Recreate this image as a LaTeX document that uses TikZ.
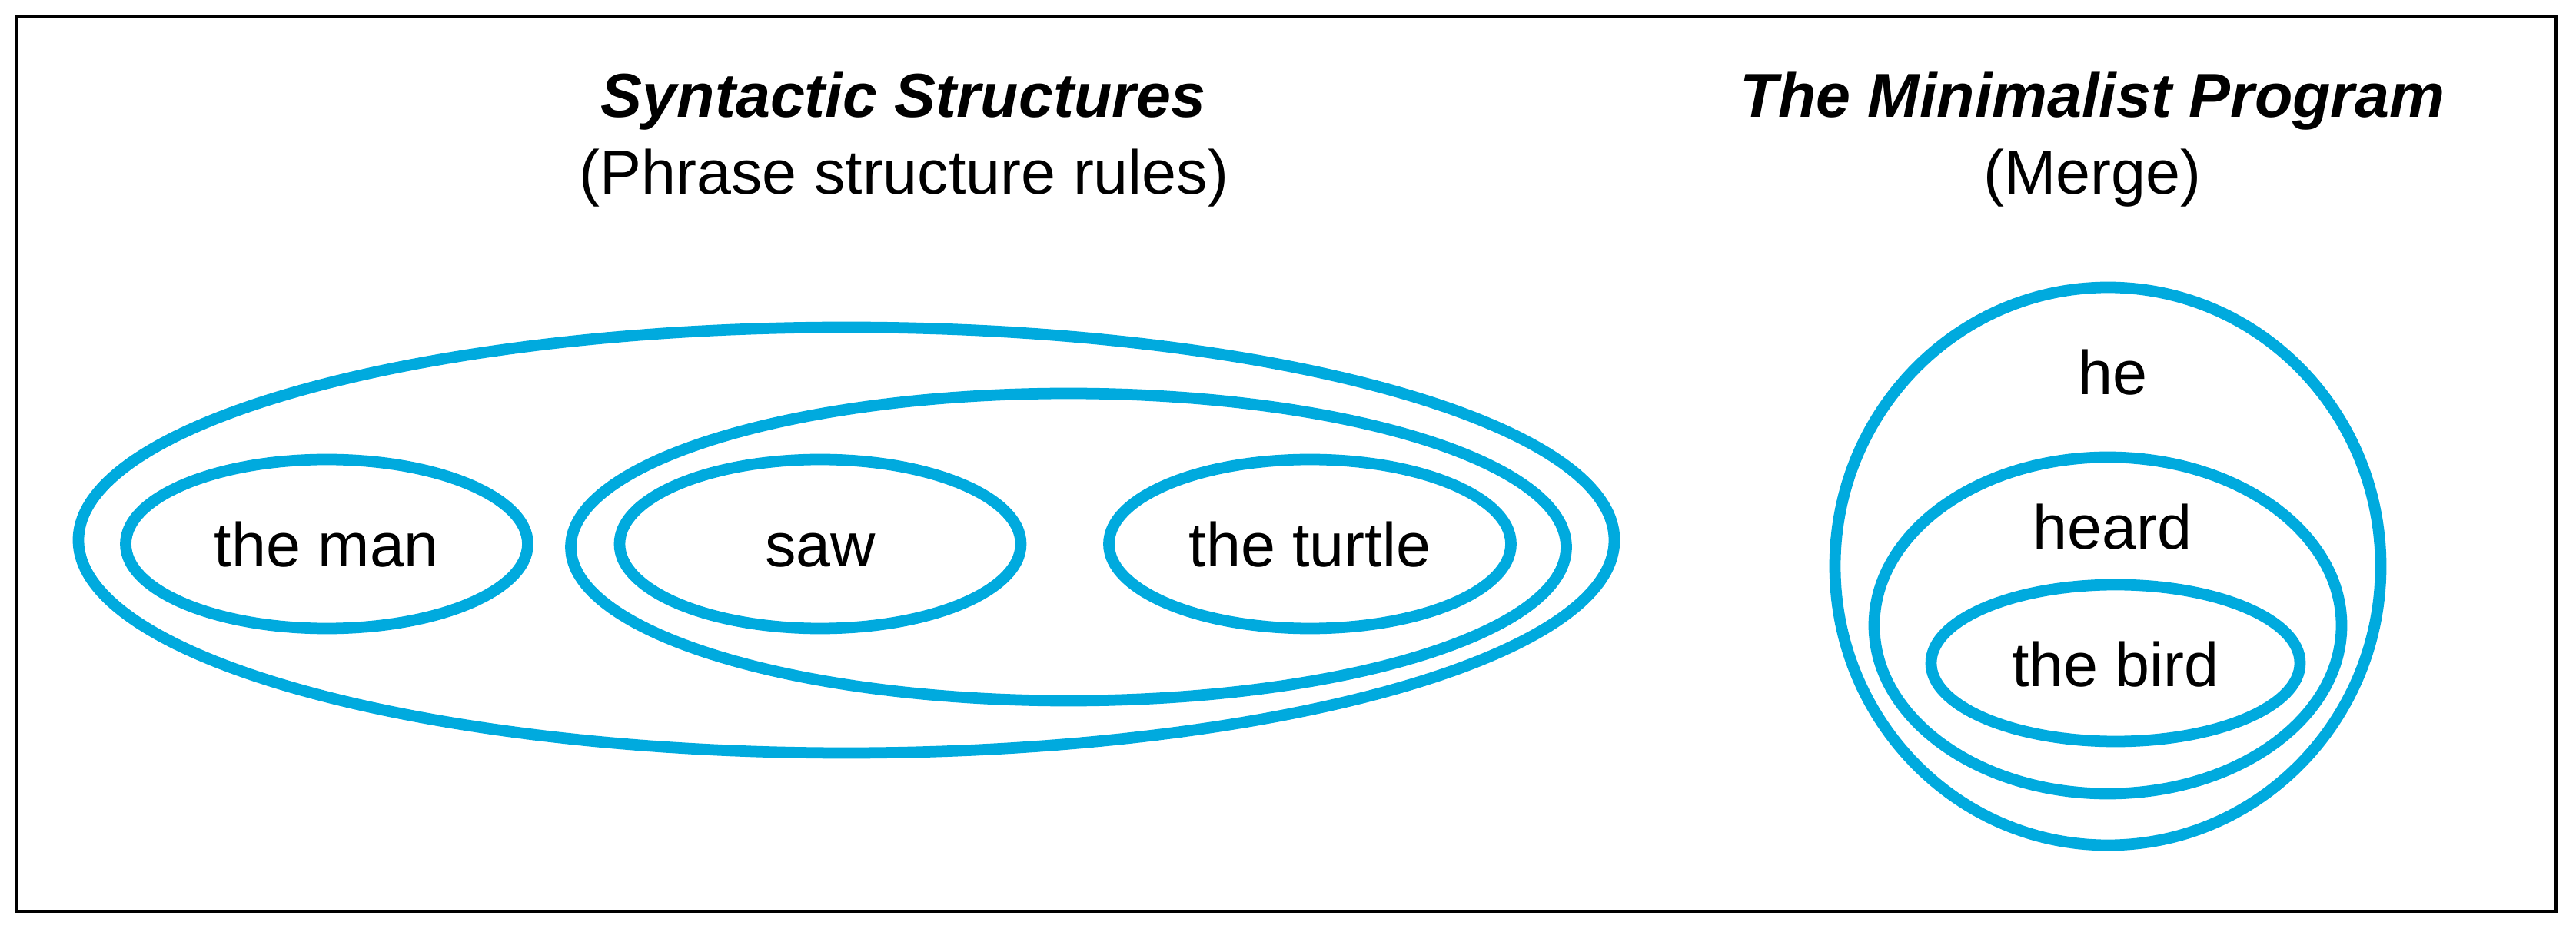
\documentclass[tikz,border=0pt]{standalone}
\usepackage{fontspec}
\setmainfont{Liberation Sans}
\usepackage{tikz}
\usetikzlibrary{shapes.geometric}
\definecolor{ringBlue}{HTML}{00AADE}

\tikzset{
  ring/.style={ellipse, draw=ringBlue, line width=4.2pt, inner sep=0pt,
    text height=0.6cm, text depth=0cm, font=\fontsize{23}{28}\selectfont},
  word/.style={anchor=base, font=\fontsize{23}{28}\selectfont},
  heading/.style={anchor=base, font=\fontsize{23}{28}\selectfont\bfseries\itshape},
}

\begin{document}
\begin{tikzpicture}

    \useasboundingbox (0,0) rectangle (33.51,12.12);
    \draw[line width=1.1pt] (0.21,0.26) rectangle (33.25,11.91);

    \node[heading] (ss) at (11.75,10.59) {Syntactic Structures};
    \node[word] (psr) at (11.76,9.59) {(Phrase structure rules)};
    \node[heading] (mp) at (27.22,10.59) {The Minimalist Program};
    \node[word] (mrg) at (27.22,9.59) {(Merge)};

    % phrase structure rules
    \node[ring, minimum width=19.98cm, minimum height=5.54cm] (sent) at (11.01,5.09) {};
    \node[ring, minimum width=12.95cm, minimum height=4.0cm] (vp) at (13.90,5.00) {};
    \node[ring, minimum width=5.23cm, minimum height=2.2cm] (man) at (4.25,5.04) {the man};
    \node[ring, minimum width=5.22cm, minimum height=2.2cm] (saw) at (10.67,5.04) {saw};
    \node[ring, minimum width=5.23cm, minimum height=2.2cm] (turtle) at (17.04,5.04) {the turtle};

    % merge
    \node[ring, minimum width=7.1cm, minimum height=7.26cm] (hebox) at (27.42,4.75) {};
    \node[ring, minimum width=6.08cm, minimum height=4.38cm] (heardbox) at (27.42,3.98) {};
    \node[ring, minimum width=4.8cm, minimum height=2.04cm] (bird) at (27.52,3.49) {the bird};
    \node[word] (he) at (27.48,6.98) {he};
    \node[word] (heard) at (27.48,4.97) {heard};

\end{tikzpicture}
\end{document}
